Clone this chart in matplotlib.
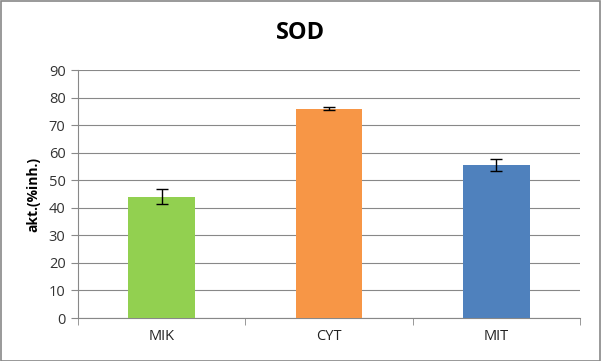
import matplotlib
matplotlib.use("Agg")
import matplotlib.pyplot as plt
from matplotlib.patches import Rectangle

categories = ["MIK", "CYT", "MIT"]
values = [44.0, 76.0, 55.5]
errors = [2.8, 0.5, 2.2]
colors = ["#92D050", "#F79646", "#4F81BD"]
yticks = [0, 10, 20, 30, 40, 50, 60, 70, 80, 90]

plt.rcParams['font.family'] = ['Open Sans', 'DejaVu Sans']

fig = plt.figure(figsize=(6.01, 3.61), dpi=100)
ax = fig.add_axes([78/601, 43/361, 502/601, 248/361])

x = list(range(len(categories)))
ax.bar(x, values, width=0.4, color=colors, zorder=3)
ax.errorbar(x, values, yerr=errors, fmt='none', ecolor='black', elinewidth=1,
            capsize=4, capthick=1, zorder=4)

ax.set_xlim(-0.5, len(categories) - 0.5)
ax.set_ylim(0, 90)
ax.set_yticks(yticks)
ax.set_yticklabels([str(t) for t in yticks], fontsize=10.5, color='#333333')
ax.yaxis.grid(True, color='#888888', linewidth=0.8, zorder=0)
ax.set_axisbelow(True)

ax.set_xticks(x)
ax.set_xticklabels(categories, fontsize=10.5, color='#222222')
ax.tick_params(axis='x', which='major', length=0, pad=8)
ax.set_xticks([i - 0.5 for i in range(len(categories) + 1)], minor=True)
ax.tick_params(axis='x', which='minor', length=5, color='#888888', direction='out')
ax.tick_params(axis='y', length=5, color='#888888', direction='out', pad=4)

for s in ['top', 'right']:
    ax.spines[s].set_visible(False)
for s in ['left', 'bottom']:
    ax.spines[s].set_color('#888888')
    ax.spines[s].set_linewidth(0.8)

ax.set_ylabel("akt.(%inh.)", fontsize=10, fontweight='bold', labelpad=6)
fig.text(0.5, 1 - 33/361, "SOD", ha='center', va='center', fontsize=17, fontweight='bold')

fig.patches.append(Rectangle((0.001, 0.001), 0.997, 0.996, transform=fig.transFigure,
                             fill=False, edgecolor='#888888', linewidth=1.2))

fig.savefig("out.png", dpi=100)
